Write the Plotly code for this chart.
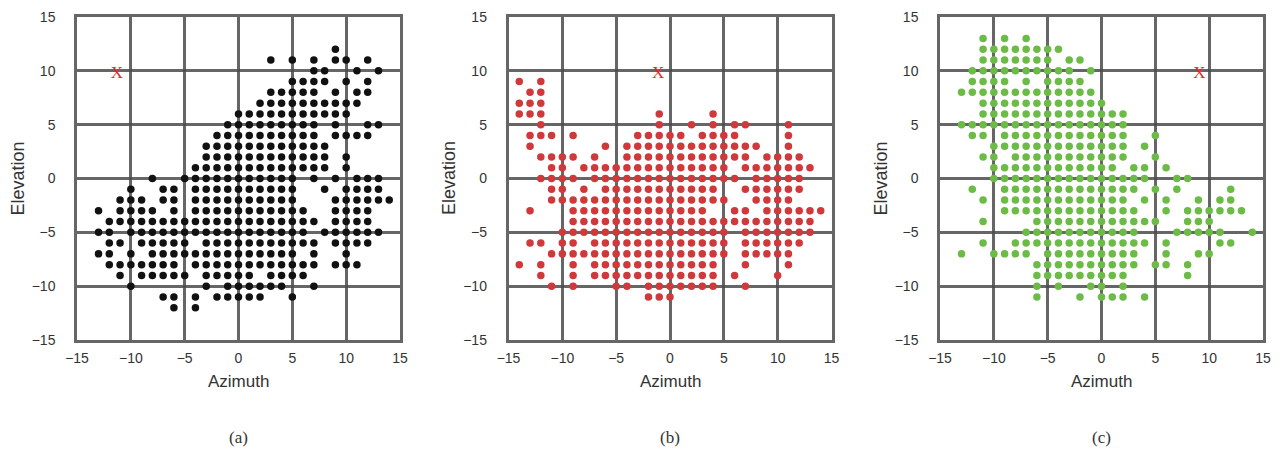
import plotly.graph_objects as go

# ---------------- data (azimuth values present in each elevation row) ----------------
elev_a = [12, 11, 10, 9, 8, 7, 6, 5, 4, 3, 2, 1, 0, -1, -2, -3, -4, -5, -6, -7, -8, -9, -10, -11, -12]
azim_a = [
    [9],
    [3, 5, 7, 9, 10, 12],
    [7, 8, 11, 13],
    [5, 6, 7, 8, 10, 12],
    [3, 4, 5, 6, 7, 9, 11, 12],
    [2, 3, 4, 5, 6, 7, 8, 9, 10, 11],
    [0, 1, 2, 3, 4, 5, 6, 7, 8, 9, 10],
    [-1, 0, 1, 2, 3, 4, 5, 6, 7, 9, 12, 13],
    [-2, -1, 0, 1, 2, 3, 4, 5, 6, 7, 9, 10, 11, 12],
    [-3, -2, -1, 0, 1, 2, 3, 4, 5, 6, 7, 8],
    [-3, -2, -1, 0, 1, 2, 3, 4, 5, 6, 7, 8, 10],
    [-4, -3, -2, -1, 0, 1, 2, 3, 4, 5, 6, 7, 8, 10],
    [-8, -5, -4, -3, -2, -1, 0, 1, 2, 3, 4, 5, 7, 9, 11, 12, 13],
    [-10, -7, -6, -4, -3, -2, -1, 0, 1, 2, 3, 4, 5, 8, 10, 11, 12, 13],
    [-11, -10, -9, -7, -6, -4, -3, -2, -1, 0, 1, 2, 3, 4, 5, 9, 10, 11, 12, 13, 14],
    [-13, -11, -10, -9, -8, -6, -4, -3, -2, -1, 0, 1, 2, 3, 4, 5, 6, 9, 10, 11, 12],
    [-12, -11, -10, -9, -8, -7, -6, -5, -4, -3, -2, -1, 0, 1, 2, 3, 4, 5, 6, 7, 9, 10, 11, 12],
    [-13, -12, -10, -9, -8, -7, -6, -5, -4, -3, -2, -1, 0, 1, 2, 3, 4, 5, 6, 8, 9, 10, 11, 12, 13],
    [-12, -11, -9, -8, -7, -6, -5, -3, -2, -1, 0, 1, 2, 3, 4, 5, 6, 7, 9, 10, 11, 12],
    [-13, -12, -10, -8, -7, -6, -5, -4, -3, -2, -1, 0, 1, 2, 3, 4, 5, 7, 10],
    [-12, -11, -10, -9, -8, -7, -6, -4, -3, -2, -1, 0, 1, 2, 3, 4, 5, 6, 7, 9, 10, 11],
    [-11, -9, -8, -7, -6, -5, -3, -2, -1, 0, 1, 3, 4, 5, 6],
    [-10, -3, -1, 0, 1, 2, 3, 4, 7],
    [-7, -6, -4, -2, -1, 0, 1, 2, 5],
    [-6, -4],
]

elev_b = [9, 8, 7, 6, 5, 4, 3, 2, 1, 0, -1, -2, -3, -4, -5, -6, -7, -8, -9, -10, -11]
azim_b = [
    [-14, -12],
    [-13, -12],
    [-14, -13, -12],
    [-14, -13, -12, -1, 4],
    [-12, -1, 2, 4, 6, 7, 11],
    [-13, -12, -11, -9, -3, -2, -1, 0, 1, 3, 4, 5, 6, 11],
    [-13, -6, -4, -3, -2, -1, 0, 1, 2, 3, 4, 5, 6, 7, 8, 11],
    [-12, -11, -10, -9, -7, -4, -3, -2, -1, 0, 1, 2, 3, 4, 5, 6, 7, 9, 10, 11, 12],
    [-11, -10, -8, -7, -6, -5, -4, -3, -2, -1, 0, 1, 2, 3, 4, 5, 7, 8, 9, 10, 11, 12, 13],
    [-12, -11, -10, -9, -7, -6, -5, -4, -3, -2, -1, 0, 1, 2, 3, 4, 5, 6, 8, 9, 10, 11, 12],
    [-11, -10, -8, -6, -5, -4, -3, -2, -1, 0, 1, 2, 3, 4, 7, 8, 9, 10, 11, 12],
    [-11, -10, -9, -8, -7, -6, -5, -4, -3, -2, -1, 0, 1, 2, 3, 4, 5, 8, 9, 10, 11],
    [-13, -9, -8, -7, -6, -5, -4, -3, -2, -1, 0, 1, 2, 3, 6, 7, 9, 10, 11, 12, 13, 14],
    [-9, -8, -7, -6, -5, -4, -3, -2, -1, 0, 1, 2, 3, 4, 5, 6, 7, 8, 9, 10, 11, 12, 13],
    [-10, -9, -8, -7, -6, -5, -4, -3, -2, -1, 0, 1, 2, 3, 4, 5, 7, 8, 9, 10, 11, 12, 13],
    [-13, -12, -10, -9, -7, -6, -5, -4, -3, -2, -1, 0, 1, 2, 3, 4, 5, 7, 8, 9, 10, 11, 12],
    [-11, -10, -9, -8, -7, -6, -5, -4, -3, -2, -1, 0, 1, 2, 3, 4, 5, 7, 8, 9, 10, 11],
    [-14, -12, -9, -7, -6, -5, -4, -3, -2, -1, 0, 1, 2, 3, 4, 7, 11],
    [-12, -9, -7, -6, -5, -4, -3, -2, -1, 0, 1, 2, 3, 4, 6, 10],
    [-11, -9, -5, -4, -2, -1, 0, 1, 2, 3, 4, 7],
    [-2, -1, 0],
]

elev_c = [13, 12, 11, 10, 9, 8, 7, 6, 5, 4, 3, 2, 1, 0, -1, -2, -3, -4, -5, -6, -7, -8, -9, -10, -11]
azim_c = [
    [-11, -9, -7],
    [-11, -10, -9, -8, -7, -6, -5, -4],
    [-11, -10, -9, -8, -7, -6, -5, -3, -2],
    [-12, -11, -10, -9, -8, -7, -6, -5, -4, -3, -1],
    [-12, -11, -10, -9, -7, -5, -4, -3, -2],
    [-13, -12, -11, -10, -9, -8, -7, -6, -5, -4, -3, -2, -1],
    [-11, -10, -9, -8, -7, -6, -5, -4, -3, -2, -1, 0],
    [-11, -10, -9, -8, -7, -6, -5, -4, -3, -2, -1, 0, 1, 2],
    [-13, -12, -11, -10, -9, -8, -7, -6, -5, -4, -3, -2, -1, 0, 1, 2],
    [-12, -11, -9, -8, -7, -6, -5, -4, -3, -2, -1, 0, 1, 2, 5],
    [-10, -9, -8, -7, -6, -5, -4, -3, -2, -1, 0, 1, 2, 4],
    [-11, -10, -8, -7, -6, -5, -4, -3, -2, -1, 0, 1, 2, 5],
    [-10, -9, -8, -7, -6, -5, -4, -3, -2, -1, 0, 1, 3, 4, 6],
    [-10, -9, -8, -7, -6, -5, -4, -3, -2, -1, 0, 1, 2, 3, 4, 7, 8],
    [-12, -9, -8, -7, -6, -5, -4, -3, -2, -1, 0, 1, 2, 3, 5, 7, 12],
    [-11, -9, -8, -7, -6, -5, -4, -3, -2, -1, 0, 1, 2, 4, 6, 9, 11, 12],
    [-9, -8, -7, -6, -5, -4, -3, -2, -1, 0, 1, 2, 3, 6, 8, 9, 10, 11, 12, 13],
    [-11, -6, -5, -4, -3, -2, -1, 0, 1, 2, 3, 4, 5, 8, 9, 10],
    [-7, -6, -5, -4, -3, -2, -1, 0, 1, 2, 3, 7, 8, 9, 10, 11, 14],
    [-11, -8, -7, -6, -5, -4, -3, -2, -1, 0, 1, 2, 3, 4, 6, 11, 12],
    [-13, -10, -9, -8, -7, -5, -4, -3, -2, -1, 0, 1, 2, 3, 6, 9, 10],
    [-6, -5, -4, -3, -2, -1, 0, 1, 2, 3, 5, 6, 8],
    [-6, -5, -4, -3, -2, -1, 0, 1, 2, 8],
    [-6, -4, -1, 0, 2],
    [-6, -2, 0, 1, 2, 4],
]

# red "X" source marks (azimuth, elevation)
src_az = [-11.3, -1.1, 9.1]
src_el = [9.7, 9.7, 9.7]

panel_labels = ["(a)", "(b)", "(c)"]
tick_vals = [-15, -10, -5, 0, 5, 10, 15]
tick_text = ["\u221215", "\u221210", "\u22125", "0", "5", "10", "15"]

dot_colors = ["#111111", "#d0393b", "#6dbb47"]

# ---------------- figure ----------------
W, H = 1285, 464
fig = go.Figure()

def flatten(elev, azim):
    xs, ys = [], []
    for e, row in zip(elev, azim):
        for a in row:
            xs.append(a)
            ys.append(e)
    return xs, ys

panels = [(elev_a, azim_a), (elev_b, azim_b), (elev_c, azim_c)]
x_left = [77, 508.5, 940]
plot_w = 323
y_top, y_bot = 17, 340
txt_col = "#333333"

for i, (el, az) in enumerate(panels):
    xs, ys = flatten(el, az)
    sfx = "" if i == 0 else str(i + 1)
    fig.add_trace(go.Scatter(
        x=xs, y=ys, mode="markers",
        marker=dict(size=7.5, color=dot_colors[i], line=dict(width=0)),
        xaxis="x" + sfx, yaxis="y" + sfx, showlegend=False, hoverinfo="skip"))
    fig.add_trace(go.Scatter(
        x=[src_az[i]], y=[src_el[i]], mode="text", text=["X"],
        textfont=dict(family="Liberation Serif", size=17, color="#e8262a"),
        textposition="middle center",
        xaxis="x" + sfx, yaxis="y" + sfx, showlegend=False, hoverinfo="skip"))

    ax_common = dict(
        range=[-15, 15], tickmode="array", tickvals=tick_vals, ticktext=tick_text,
        showgrid=True, gridcolor="rgba(75,75,75,0.85)", gridwidth=2.5,
        showline=True, linecolor="rgba(75,75,75,0.85)", linewidth=2.5, mirror=True,
        zeroline=False, ticks="", automargin=False,
        tickfont=dict(family="Liberation Sans", size=14, color=txt_col),
        fixedrange=True,
    )
    xdom = [x_left[i] / W, (x_left[i] + plot_w) / W]
    ydom = [1 - y_bot / H, 1 - y_top / H]
    fig.update_layout(**{
        "xaxis" + sfx: dict(ax_common, domain=xdom, anchor="y" + sfx, ticklabelstandoff=3),
        "yaxis" + sfx: dict(ax_common, domain=ydom, anchor="x" + sfx, ticklabelstandoff=16),
    })

    cx = (x_left[i] + plot_w / 2) / W
    fig.add_annotation(text="Azimuth", xref="paper", yref="paper", x=cx, y=1 - 381 / H,
                       showarrow=False, font=dict(family="Liberation Sans", size=17, color=txt_col),
                       xanchor="center", yanchor="middle")
    fig.add_annotation(text="Elevation", xref="paper", yref="paper",
                       x=(x_left[i] - 60) / W, y=1 - 178.5 / H, textangle=-90,
                       showarrow=False, font=dict(family="Liberation Sans", size=18, color=txt_col),
                       xanchor="center", yanchor="middle")
    fig.add_annotation(text=panel_labels[i], xref="paper", yref="paper", x=cx, y=1 - 437 / H,
                       showarrow=False, font=dict(family="Liberation Serif", size=17, color=txt_col),
                       xanchor="center", yanchor="middle")

fig.update_layout(width=W, height=H, margin=dict(l=0, r=0, t=0, b=0),
                  paper_bgcolor="white", plot_bgcolor="white", template="none")
fig.write_html("out.html")
